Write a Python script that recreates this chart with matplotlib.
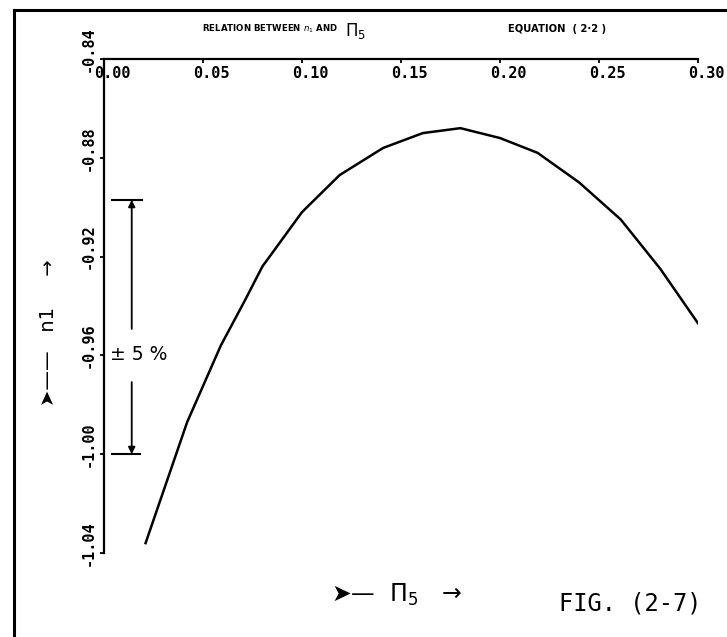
import numpy as np
import matplotlib
matplotlib.use('Agg')
import matplotlib.pyplot as plt
from matplotlib.lines import Line2D
from matplotlib.transforms import ScaledTranslation

# values (pi5, n1)
pi5 = [0.021, 0.033, 0.042, 0.059, 0.071, 0.080, 0.100, 0.119, 0.141,
       0.161, 0.180, 0.200, 0.219, 0.240, 0.261, 0.281, 0.300]
n1 = [-1.036, -1.008, -0.987, -0.956, -0.938, -0.924, -0.902, -0.887, -0.876,
      -0.870, -0.868, -0.872, -0.878, -0.890, -0.905, -0.925, -0.947]

xticks = [0.00, 0.05, 0.10, 0.15, 0.20, 0.25, 0.30]
xticklabels = ['0.00', '0.05', '0.10', '0.15', '0.20', '0.25', '0.30']
yticks = [-0.84, -0.88, -0.92, -0.96, -1.00, -1.04]
yticklabels = ['-0.84', '-0.88', '-0.92', '-0.96', '-1.00', '-1.04']

# +-5 % band marker
band_x = 0.014
band_top, band_bot = -0.897, -1.000

size = 727, 637
dpi = 100.0
figsize = size[0]/dpi, size[1]/dpi
fig = plt.figure(figsize=figsize, dpi=dpi)
ax = fig.add_axes([104/727, 1-553/637, (698-104)/727, (553-59)/637])

ax.plot(pi5, n1, color='k', lw=1.8, solid_joinstyle='round')
ax.set_xlim(0, 0.30)
ax.set_ylim(-1.04, -0.84)

for s in ['right', 'bottom']:
    ax.spines[s].set_visible(False)
for s in ['left', 'top']:
    ax.spines[s].set_linewidth(1.6)

mono = dict(family='DejaVu Sans Mono', weight='bold', size=11)
ax.set_xticks(xticks)
ax.set_xticklabels(xticklabels, **mono)
ax.xaxis.tick_top()
ax.tick_params(axis='x', direction='in', length=3, width=1.3, pad=-5)
ax.set_yticks(yticks)
ax.set_yticklabels(yticklabels, rotation=90, va='center', ha='right', **mono)
ax.tick_params(axis='y', direction='out', length=3, width=1.3, pad=3)

for t in ax.xaxis.get_major_ticks():
    t.label2.set_va('top')
    t.label2.set_transform(t.label2.get_transform() +
                           ScaledTranslation(0.085, 0, fig.dpi_scale_trans))
for t in ax.yaxis.get_major_ticks():
    t.label1.set_transform(t.label1.get_transform() +
                           ScaledTranslation(0, 0.10, fig.dpi_scale_trans))

# +-5 % bracket
ax.plot([0.004, 0.019], [band_top, band_top], color='k', lw=1.5)
ax.plot([0.004, 0.018], [band_bot, band_bot], color='k', lw=1.5)
arr = dict(arrowstyle='-|>', color='k', lw=1.3, mutation_scale=10,
           shrinkA=0, shrinkB=0)
ax.annotate('', xy=(band_x, band_top), xytext=(band_x, -0.9493), arrowprops=arr)
ax.annotate('', xy=(band_x, band_bot), xytext=(band_x, -0.9708), arrowprops=arr)
ax.text(0.003, -0.9598, '\u00b1 5 %', fontsize=13.5, family='DejaVu Sans',
        va='center', ha='left')

# title line
narrow = ['Liberation Sans Narrow', 'DejaVu Sans']
fig.text(202/727, 1-29/637, r'RELATION BETWEEN $n_1$ AND',
         fontsize=6.2, weight='bold', family=narrow, va='center', ha='left')
fig.text(345/727, 1-31/637, r'$\Pi_5$',
         fontsize=12, family='DejaVu Sans', va='center', ha='left')
fig.text(508/727, 1-29/637, 'EQUATION  ( 2\u00b72 )',
         fontsize=7.2, weight='bold', family=narrow, va='center', ha='left')

# axis names
fig.text(48/727, 1-333/637, '\u27a4\u2014\u2014   n1     \u2192', rotation=90,
         fontsize=14, family='DejaVu Sans', va='center', ha='center')
fig.text(396/727, 1-595/637, '\u27a4\u2014  $\\Pi_5$   \u2192',
         fontsize=17, family='DejaVu Sans', va='center', ha='center')
fig.text(630/727, 1-603/637, 'FIG. (2-7)', fontsize=17,
         family='DejaVu Sans Mono', va='center', ha='center')

# frame of the scanned sheet
fig.add_artist(Line2D([14/727, 14/727], [0, 1-10/637], color='k', lw=2.2,
                      transform=fig.transFigure))
fig.add_artist(Line2D([14/727, 1], [1-10/637, 1-10/637], color='k', lw=2.2,
                      transform=fig.transFigure))

fig.savefig('out.png', dpi=dpi)
